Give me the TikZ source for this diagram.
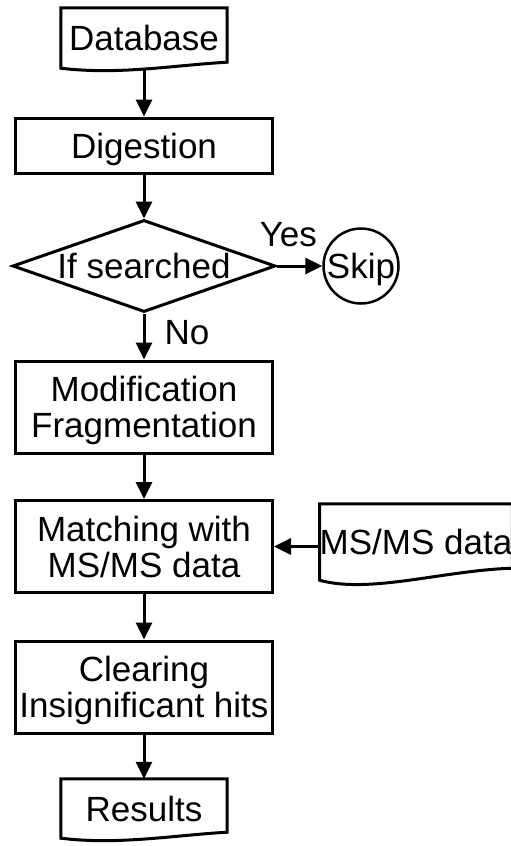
\documentclass[tikz,border=0pt]{standalone}
\usepackage{fontspec}
\setmainfont{Liberation Sans}
\usetikzlibrary{arrows.meta,shapes.geometric}

% outline of a document symbol around a (text only) node
\newcommand{\docoutline}[1]{%
  \draw[line width=3pt] (#1.south west) -- (#1.north west) -- (#1.north east)
    -- ([yshift=6pt]#1.south east)
    .. controls ([xshift=113pt,yshift=3pt]#1.south west) and ([xshift=58pt,yshift=-7pt]#1.south west)
    .. (#1.south west) -- cycle;}

\tikzset{
  every node/.style={font=\fontsize{35}{36}\selectfont, text height=25pt, text depth=0pt},
  process/.style={draw, line width=3pt, minimum width=257pt, minimum height=92pt, align=center, inner sep=0pt},
  twolines/.style={text height=61pt},
  decision/.style={diamond, draw, line width=3pt, aspect=2.86, minimum width=263pt, minimum height=92pt, inner sep=0pt},
  doc/.style={minimum width=166pt, inner sep=0pt},
  stopnode/.style={circle, draw, line width=2.5pt, minimum size=75pt, inner sep=0pt},
  flow/.style={line width=3pt, -{Triangle[length=17pt,width=16pt]}},
  lbl/.style={inner sep=0pt},
}

\begin{document}
\begin{tikzpicture}[x=1pt, y=-1pt]
\useasboundingbox (0,0) rectangle (511,846);

% main column
\node[doc, minimum height=60pt] (db) at (144,38) {Database};
\node[process, minimum height=55pt] (dig) at (144,145.5) {Digestion};
\node[decision] (dia) at (144,266) {If searched};
\node[stopnode] (skip) at (361,266) {Skip};
\node[process, twolines] (mod) at (144,407) {Modification\\Fragmentation};
\node[process, twolines] (match) at (144,546.5) {Matching with\\MS/MS data};
\node[process, twolines] (clr) at (144,687) {Clearing\\Insignificant hits};
\node[doc, minimum height=59pt] (res) at (144,808.5) {Results};

% spectra input on the right
\node[doc, minimum width=192pt, minimum height=76pt] (ms) at (416,542) {MS/MS data};

\docoutline{db}
\docoutline{res}
\draw[line width=3pt] (ms.south west) -- (ms.north west) -- (ms.north east)
  -- ([yshift=12pt]ms.south east)
  .. controls ([xshift=125pt,yshift=10pt]ms.south west) and ([xshift=50pt,yshift=-14pt]ms.south west)
  .. (ms.south west) -- cycle;

% connectors
\draw[flow] (db.south) -- (dig.north);
\draw[flow] (dig.south) -- (dia.north);
\draw[flow] (dia.east) -- node[lbl, pos=0.25, above=18pt] {Yes} (skip.west);
\draw[flow] (dia.south) -- node[lbl, pos=0.41, right=19pt] {No} (mod.north);
\draw[flow] (mod.south) -- (match.north);
\draw[flow] (ms.west |- match.east) -- (match.east);
\draw[flow] (match.south) -- (clr.north);
\draw[flow] (clr.south) -- (res.north);
\end{tikzpicture}
\end{document}
